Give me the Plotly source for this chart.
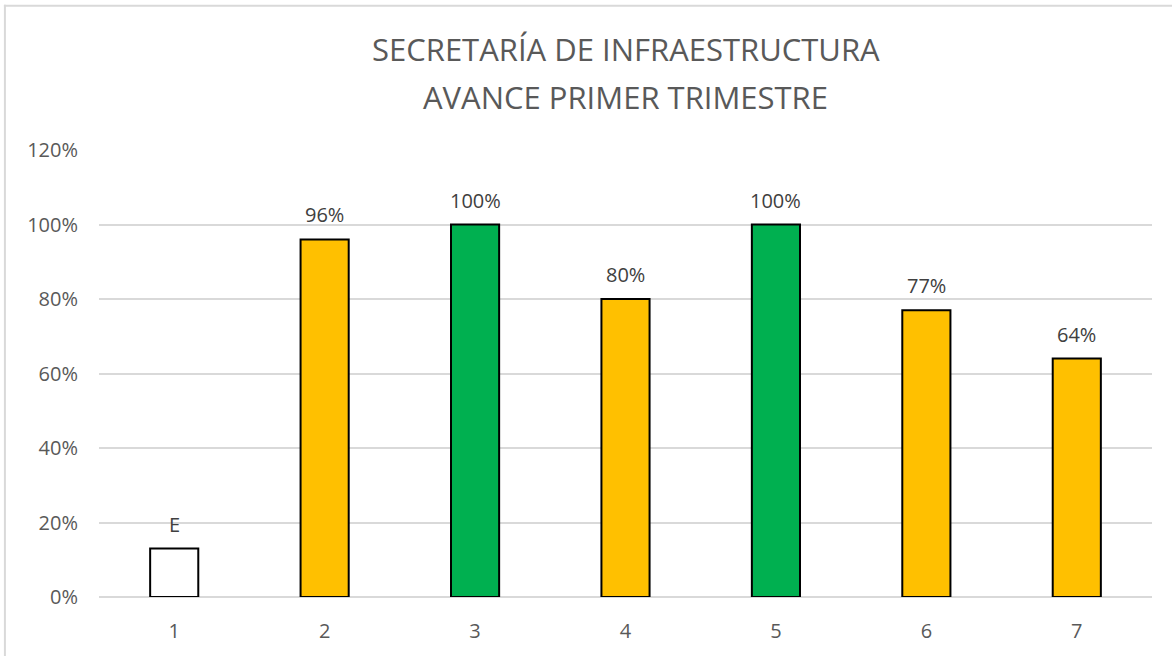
import plotly.graph_objects as go

categories = ["1", "2", "3", "4", "5", "6", "7"]
values = [0.13, 0.96, 1.00, 0.80, 1.00, 0.77, 0.64]
labels = ["E", "96%", "100%", "80%", "100%", "77%", "64%"]
colors = ["#FFFFFF", "#FFC000", "#00B050", "#FFC000", "#00B050", "#FFC000", "#FFC000"]
title_lines = ["SECRETARÍA DE INFRAESTRUCTURA", "AVANCE PRIMER TRIMESTRE"]

TEXT = "#595959"
FONT = "Open Sans, Liberation Sans, sans-serif"
FRAME = "#D9D9D9"

fig = go.Figure(
    go.Bar(
        x=categories,
        y=values,
        marker=dict(color=colors, line=dict(color="#000000", width=2)),
        width=0.32,
        hoverinfo="skip",
    )
)

# data labels, a bit higher above the bars than plotly's own outside text
# (annotations on a category axis take the category index as x)
for i, (val, lab) in enumerate(zip(values, labels)):
    fig.add_annotation(
        x=i,
        y=val,
        text=lab,
        xanchor="center",
        yanchor="bottom",
        yshift=9,
        showarrow=False,
        font=dict(size=20, color="#404040", family=FONT),
    )

# two-line title as annotations (Excel uses wider line spacing than plotly)
for i, line in enumerate(title_lines):
    fig.add_annotation(
        text=line,
        xref="paper",
        yref="paper",
        x=0.5,
        y=1.226 - i * 0.1074,
        xanchor="center",
        yanchor="middle",
        showarrow=False,
        font=dict(size=31, color=TEXT, family=FONT),
    )

fig.update_layout(
    width=1172,
    height=656,
    paper_bgcolor="white",
    plot_bgcolor="white",
    margin=dict(l=99, r=20, t=150, b=59),
    showlegend=False,
    font=dict(family=FONT, color=TEXT, size=20),
    xaxis=dict(
        type="category",
        range=[-0.5, 6.5],
        showgrid=False,
        showline=False,
        ticks="",
        ticklabelstandoff=20,
        tickfont=dict(size=20, color=TEXT),
    ),
    yaxis=dict(
        range=[0, 1.2],
        dtick=0.2,
        tickformat=".0%",
        showgrid=True,
        gridcolor="#D9D9D9",
        gridwidth=1.5,
        zeroline=True,
        zerolinecolor="#D9D9D9",
        zerolinewidth=1.5,
        ticks="",
        ticklabelstandoff=20,
        tickfont=dict(size=20, color=TEXT),
    ),
    shapes=[
        # chart-area frame: only its left and top edges fall inside the picture
        dict(type="rect", xref="paper", yref="paper",
             x0=-0.0903, x1=-0.0884, y0=-0.2, y1=1.325,
             fillcolor=FRAME, line=dict(width=0)),
        dict(type="rect", xref="paper", yref="paper",
             x0=-0.0903, x1=1.05, y0=1.3205, y1=1.325,
             fillcolor=FRAME, line=dict(width=0)),
    ],
)

fig.write_html(
    "out.html",
    config={"displayModeBar": False},
    post_script="document.body.style.margin='0';",
)
